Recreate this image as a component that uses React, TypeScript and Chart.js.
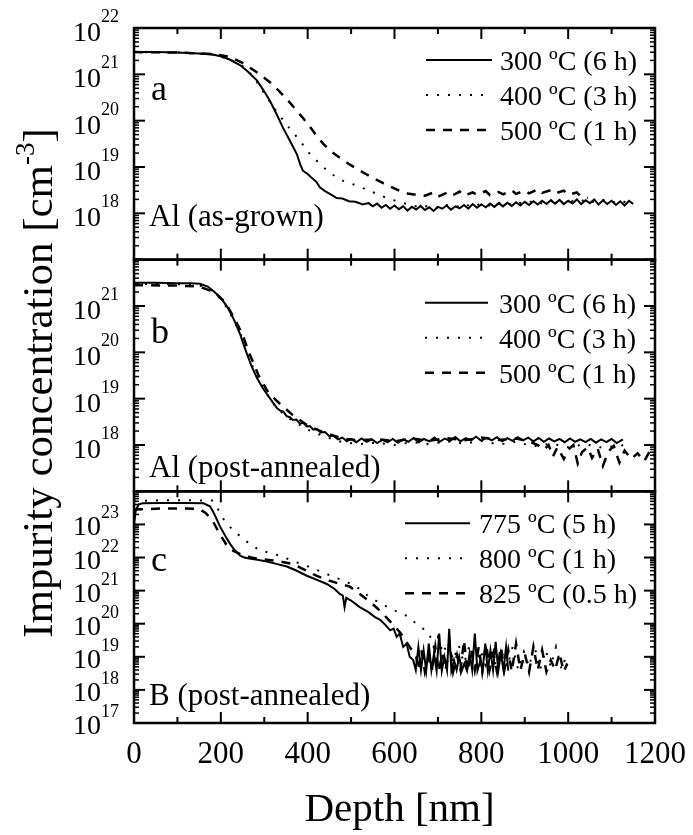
import React, { useEffect, useRef } from "react";
import { Chart, registerables } from "chart.js";

Chart.register(...registerables);

// ---------- data: [depth nm, log10(concentration cm^-3)] ----------
const xTickLabels = [0, 200, 400, 600, 800, 1000, 1200];
const yExpLabelsA = [18, 19, 20, 21, 22];
const yExpLabelsB = [18, 19, 20, 21];
const yExpLabelsC = [17, 18, 19, 20, 21, 22, 23];

const legendAl = ["300 ºC (6 h)", "400 ºC (3 h)", "500 ºC (1 h)"];
const legendB = ["775 ºC (5 h)", "800 ºC (1 h)", "825 ºC (0.5 h)"];
const panelLetters = ["a", "b", "c"];
const panelNames = ["Al (as-grown)", "Al (post-annealed)", "B (post-annealed)"];

const a300 = [
  [0, 21.48], [50, 21.48], [100, 21.47], [150, 21.45], [180, 21.43], [200, 21.39], [220, 21.32], [244, 21.2],
  [262, 21.06], [283, 20.87], [298, 20.66], [313, 20.43], [328, 20.15], [343, 19.85], [360, 19.55], [375, 19.28],
  [383, 19.05], [389, 18.92], [400, 18.85], [410, 18.76], [420, 18.68], [428, 18.56], [440, 18.48], [455, 18.4],
  [467, 18.33], [480, 18.32], [495, 18.26], [510, 18.25], [527, 18.19],
  [540, 18.22], [550, 18.15], [560, 18.21], [570, 18.12], [580, 18.18], [590, 18.1], [600, 18.17], [610, 18.09],
  [620, 18.15], [630, 18.06], [640, 18.14], [650, 18.08], [660, 18.16], [670, 18.07], [680, 18.13], [690, 18.05],
  [700, 18.14], [710, 18.1], [720, 18.17], [730, 18.08], [740, 18.15], [750, 18.11], [760, 18.18], [770, 18.1],
  [780, 18.2], [790, 18.12], [800, 18.19], [810, 18.13], [820, 18.21], [830, 18.14], [840, 18.22], [850, 18.15],
  [860, 18.23], [870, 18.16], [880, 18.24], [890, 18.17], [900, 18.25], [910, 18.18], [920, 18.26], [930, 18.19],
  [940, 18.27], [950, 18.2], [960, 18.28], [970, 18.21], [980, 18.29], [990, 18.2], [1000, 18.27], [1010, 18.21],
  [1020, 18.3], [1030, 18.2], [1040, 18.28], [1050, 18.22], [1060, 18.3], [1070, 18.19], [1080, 18.28], [1090, 18.2],
  [1100, 18.27], [1110, 18.18], [1120, 18.26], [1130, 18.17], [1140, 18.27], [1150, 18.2],
];

const a400 = [
  [0, 21.48], [100, 21.47], [180, 21.43], [220, 21.33], [250, 21.18], [275, 20.95], [302, 20.56], [332, 20.15],
  [357, 19.85], [382, 19.57], [405, 19.28], [428, 19.07], [451, 18.87], [482, 18.7], [513, 18.6], [544, 18.48],
  [582, 18.33], [620, 18.22], [640, 18.18], [660, 18.12], [680, 18.17], [700, 18.11], [720, 18.18], [740, 18.13],
  [760, 18.2], [780, 18.14], [800, 18.21], [820, 18.16], [840, 18.23], [860, 18.18], [880, 18.25], [900, 18.2],
  [920, 18.27], [940, 18.21], [960, 18.28], [980, 18.22], [1000, 18.29], [1020, 18.23], [1040, 18.3], [1060, 18.24],
  [1080, 18.29], [1100, 18.22], [1120, 18.28], [1140, 18.21], [1150, 18.25],
];

const a500 = [
  [0, 21.48], [100, 21.47], [180, 21.44], [220, 21.38], [251, 21.24], [282, 21.05], [313, 20.83], [336, 20.62],
  [359, 20.39], [378, 20.18], [398, 19.96], [417, 19.72], [436, 19.5], [455, 19.33], [474, 19.2], [494, 19.07],
  [513, 18.96], [532, 18.86], [551, 18.76], [574, 18.65], [590, 18.58], [613, 18.48], [630, 18.43], [650, 18.4],
  [670, 18.38], [690, 18.45], [700, 18.36], [720, 18.44], [730, 18.37], [750, 18.47], [760, 18.38], [780, 18.45],
  [790, 18.4], [810, 18.48], [820, 18.39], [840, 18.46], [850, 18.41], [870, 18.5], [880, 18.42], [900, 18.49],
  [910, 18.43], [930, 18.52], [940, 18.44], [960, 18.5], [970, 18.43], [990, 18.49], [1000, 18.4], [1020, 18.45],
  [1030, 18.35], [1045, 18.33],
];

const b300 = [
  [0, 21.5], [50, 21.5], [100, 21.49], [130, 21.49], [152, 21.48], [170, 21.42], [182, 21.33], [195, 21.22],
  [205, 21.11], [217, 20.95], [228, 20.75], [236, 20.58], [244, 20.4], [252, 20.18], [260, 19.97], [270, 19.72],
  [283, 19.45], [295, 19.25], [306, 19.1], [318, 18.94], [329, 18.8], [337, 18.74], [344, 18.72], [352, 18.62],
  [359, 18.6], [366, 18.54], [374, 18.55], [382, 18.46], [390, 18.48], [398, 18.4], [405, 18.41], [413, 18.33],
  [421, 18.35], [430, 18.27], [440, 18.28], [450, 18.19], [459, 18.2], [470, 18.12], [480, 18.16], [490, 18.08],
  [500, 18.13], [512, 18.06], [524, 18.14], [536, 18.07], [548, 18.12], [560, 18.04], [572, 18.11], [584, 18.06],
  [596, 18.13], [608, 18.05], [620, 18.12], [632, 18.07], [644, 18.15], [656, 18.06], [668, 18.13], [680, 18.08],
  [692, 18.16], [704, 18.07], [716, 18.14], [728, 18.09], [740, 18.17], [752, 18.08], [764, 18.15], [776, 18.1],
  [788, 18.18], [800, 18.09], [812, 18.16], [824, 18.1], [836, 18.17], [848, 18.08], [860, 18.15], [872, 18.09],
  [884, 18.17], [896, 18.1], [908, 18.16], [920, 18.08], [932, 18.15], [944, 18.07], [956, 18.14], [968, 18.08],
  [980, 18.13], [992, 18.06], [1004, 18.14], [1016, 18.07], [1028, 18.12], [1040, 18.06], [1052, 18.13], [1064, 18.05],
  [1076, 18.12], [1088, 18.06], [1100, 18.13], [1112, 18.04], [1126, 18.12],
];

const b400 = [
  [0, 21.48], [100, 21.47], [150, 21.45], [180, 21.33], [205, 21.1], [228, 20.73], [246, 20.38], [262, 19.95],
  [285, 19.43], [308, 19.08], [330, 18.78], [360, 18.56], [400, 18.33], [440, 18.18], [480, 18.06], [520, 18.02],
  [560, 18.05], [600, 18.0], [640, 18.06], [680, 18.02], [720, 18.08], [760, 18.03], [800, 18.09], [840, 18.01],
  [880, 18.07], [920, 17.97], [960, 18.03], [1000, 17.95], [1040, 18.02], [1080, 17.94], [1130, 18.0],
];

const b500 = [
  [0, 21.45], [100, 21.44], [150, 21.42], [185, 21.3], [210, 21.08], [232, 20.72], [249, 20.4], [266, 19.97],
  [288, 19.48], [310, 19.12], [336, 18.89], [365, 18.65], [400, 18.42], [440, 18.26], [480, 18.14], [520, 18.1],
  [560, 18.13], [600, 18.08], [640, 18.14], [680, 18.09], [720, 18.15], [760, 18.1], [800, 18.16], [840, 18.11],
  [880, 18.14], [910, 18.08], [930, 18.0], [945, 17.9], [955, 18.0], [965, 17.75], [975, 17.95], [990, 17.7],
  [1000, 17.9], [1012, 18.0], [1022, 17.6], [1032, 17.85], [1045, 17.95], [1055, 17.72], [1068, 17.92], [1080, 17.55],
  [1092, 17.85], [1105, 17.98], [1118, 17.62], [1130, 17.88], [1145, 17.7], [1160, 17.82], [1175, 17.65], [1190, 17.9],
  [1200, 17.75],
];

const c775 = [
  [0, 23.0], [4, 23.4], [10, 23.6], [20, 23.64], [60, 23.65], [120, 23.65], [160, 23.64], [175, 23.55],
  [182, 23.39], [190, 23.17], [198, 22.94], [210, 22.66], [221, 22.42], [232, 22.22], [244, 22.06], [252, 22.01],
  [262, 21.98], [284, 21.93], [306, 21.88], [330, 21.8], [352, 21.73], [375, 21.6], [398, 21.45], [420, 21.33],
  [444, 21.2], [462, 21.05], [474, 20.9], [481, 20.85], [485, 20.5], [489, 20.78], [500, 20.7], [520, 20.5],
  [540, 20.35], [555, 20.2], [567, 20.12], [580, 19.95], [590, 19.8], [598, 19.85], [605, 19.6], [612, 19.7],
  [620, 19.3], [628, 19.4], [635, 19.0], [643, 18.9], [649, 18.6], [655, 19.3], [661, 18.6], [667, 19.2],
  [673, 18.58], [679, 19.4], [685, 18.6], [691, 19.1], [697, 18.58], [703, 19.7], [709, 18.58], [715, 19.0],
  [721, 18.6], [726, 19.85], [731, 18.58], [737, 18.9], [743, 18.6], [749, 19.0], [755, 18.58], [761, 18.8],
  [767, 18.58], [773, 19.1], [779, 18.6], [785, 19.7], [791, 18.58], [797, 18.85], [803, 18.6], [809, 19.4],
  [815, 18.58], [821, 19.2], [827, 18.6], [833, 19.45], [839, 18.58], [845, 19.1], [851, 18.6], [857, 19.3],
  [862, 18.58],
];

const c800 = [
  [0, 23.7], [60, 23.73], [120, 23.73], [180, 23.72], [192, 23.5], [205, 23.18], [228, 22.82], [260, 22.48],
  [290, 22.21], [320, 22.12], [352, 21.97], [382, 21.82], [413, 21.67], [459, 21.42], [490, 21.27], [520, 21.05],
  [543, 20.8], [570, 20.6], [600, 20.4], [628, 20.24], [650, 20.0], [666, 19.85], [680, 19.7], [690, 19.3],
  [700, 19.6], [712, 19.1], [722, 19.45], [735, 18.9], [748, 19.35], [760, 18.8], [772, 19.3], [785, 18.7],
  [798, 19.2], [810, 18.75], [822, 19.25], [835, 18.65], [848, 19.1], [860, 18.7], [872, 19.3], [885, 18.6],
  [898, 19.15], [910, 18.7], [922, 19.35], [935, 18.6], [948, 19.2], [960, 18.7], [972, 19.3], [985, 18.62],
  [997, 19.1],
];

const c825 = [
  [0, 23.45], [60, 23.48], [120, 23.48], [150, 23.47], [165, 23.35], [182, 23.09], [198, 22.7], [214, 22.36],
  [228, 22.21], [245, 22.1], [270, 22.0], [295, 21.95], [320, 21.91], [345, 21.86], [366, 21.8], [390, 21.65],
  [420, 21.45], [450, 21.3], [475, 21.2], [497, 21.12], [520, 20.9], [545, 20.65], [570, 20.35], [595, 20.0],
  [615, 19.7], [635, 19.3], [650, 19.0], [655, 18.6], [662, 19.2], [670, 18.55], [678, 19.0], [686, 18.6],
  [694, 19.3], [702, 18.55], [710, 19.1], [718, 18.6], [727, 19.4], [735, 18.55], [744, 19.05], [752, 18.6],
  [760, 19.5], [768, 18.55], [777, 19.2], [785, 18.6], [794, 19.3], [802, 18.55], [811, 19.4], [819, 18.6],
  [828, 19.1], [836, 18.55], [845, 19.3], [853, 18.6], [862, 19.2], [870, 18.55], [880, 19.4], [890, 18.6],
  [900, 19.1], [910, 18.55], [920, 19.3], [930, 18.6], [940, 19.2], [950, 18.55], [960, 18.9], [970, 18.6],
  [980, 19.1], [990, 18.55], [998, 18.8],
];

// ---------- styling ----------
const FONT = '"Liberation Serif", "Times New Roman", Times, serif';
const LINE_STYLES = [
  { dash: [] as number[], width: 2 },
  { dash: [2, 9], width: 2 },
  { dash: [9, 8], width: 2.5 },
];
const AXIS_IDS = ["ya", "yb", "yc"];

const PANEL_LAYOUT = [
  { letterDy: 72, nameDy: -34, legendDy: 42, textX: 500, lineX0: 426, lineX1: 492 },
  { letterDy: 83, nameDy: -14, legendDy: 53, textX: 499, lineX0: 425, lineX1: 488 },
  { letterDy: 80, nameDy: -18, legendDy: 42, textX: 479, lineX0: 405, lineX1: 470 },
];

const SERIES = [
  { panel: 0, style: 0, data: a300 },
  { panel: 0, style: 1, data: a400 },
  { panel: 0, style: 2, data: a500 },
  { panel: 1, style: 0, data: b300 },
  { panel: 1, style: 1, data: b400 },
  { panel: 1, style: 2, data: b500 },
  { panel: 2, style: 0, data: c775 },
  { panel: 2, style: 1, data: c800 },
  { panel: 2, style: 2, data: c825 },
];

function drawText(ctx: CanvasRenderingContext2D, s: string, x: number, y: number, size: number, align: CanvasTextAlign = "left") {
  ctx.save();
  ctx.font = `${size}px ${FONT}`;
  ctx.textAlign = align;
  ctx.textBaseline = "alphabetic";
  ctx.fillStyle = "#000";
  ctx.fillText(s, x, y);
  ctx.restore();
}

function line(ctx: CanvasRenderingContext2D, x0: number, y0: number, x1: number, y1: number) {
  ctx.beginPath();
  ctx.moveTo(x0, y0);
  ctx.lineTo(x1, y1);
  ctx.stroke();
}

const decorPlugin = {
  id: "decor",
  afterDraw(chart: any) {
    const ctx: CanvasRenderingContext2D = chart.ctx;
    const xs = chart.scales.x;
    const left = chart.chartArea.left;
    const right = chart.chartArea.right;
    const expLabels = [yExpLabelsA, yExpLabelsB, yExpLabelsC];
    const legends = [legendAl, legendAl, legendB];
    ctx.save();
    ctx.strokeStyle = "#000";
    ctx.lineCap = "butt";

    AXIS_IDS.forEach((id, p) => {
      const ys = chart.scales[id];
      const top = ys.top;
      const bottom = ys.bottom;
      // x ticks on top and bottom
      for (let v = 0; v <= 1200; v += 100) {
        const px = xs.getPixelForValue(v);
        const len = v % 200 === 0 ? 11 : 6;
        ctx.lineWidth = 2;
        line(ctx, px, top, px, top + len);
        line(ctx, px, bottom, px, bottom - len);
      }
      // y ticks
      const eMin = Math.round(Math.log10(ys.min));
      const eMax = Math.round(Math.log10(ys.max));
      for (let e = eMin; e <= eMax; e++) {
        const py = ys.getPixelForValue(Math.pow(10, e));
        ctx.lineWidth = 2;
        line(ctx, left, py, left + 11, py);
        line(ctx, right, py, right - 11, py);
        if (e < eMax) {
          for (let m = 2; m <= 9; m++) {
            const pm = ys.getPixelForValue(m * Math.pow(10, e));
            ctx.lineWidth = 1.5;
            line(ctx, left, pm, left + 5, pm);
            line(ctx, right, pm, right - 5, pm);
          }
        }
      }
      // frame
      ctx.lineWidth = 2.5;
      ctx.strokeRect(left, top, right - left, bottom - top);

      // y tick labels 10^n
      expLabels[p].forEach((e) => {
        const py = ys.getPixelForValue(Math.pow(10, e));
        drawText(ctx, "10", 101, py + (p === 2 ? 11 : 13), 28, "right");
        drawText(ctx, String(e), 101, py - 6, 18, "left");
      });

      // panel letter and name
      const L = PANEL_LAYOUT[p];
      drawText(ctx, panelLetters[p], 151, top + L.letterDy, 36, "left");
      drawText(ctx, panelNames[p], 149, bottom + L.nameDy, 31, "left");

      // legend
      legends[p].forEach((label, i) => {
        const base = top + L.legendDy + i * 35;
        const st = LINE_STYLES[i];
        ctx.save();
        ctx.lineWidth = st.width;
        ctx.setLineDash(st.dash);
        line(ctx, L.lineX0, base - 10, L.lineX1, base - 10);
        ctx.restore();
        drawText(ctx, label, L.textX, base, 28, "left");
      });
    });

    // x tick labels
    const xb = chart.chartArea.bottom;
    xTickLabels.forEach((v) => {
      drawText(ctx, String(v), xs.getPixelForValue(v), xb + 40, 31, "center");
    });

    // x title
    drawText(ctx, "Depth [nm]", (left + right) / 2 + 5, xb + 98, 41, "center");

    // y title (rotated)
    ctx.save();
    ctx.translate(52, 383);
    ctx.rotate(-Math.PI / 2);
    ctx.fillStyle = "#000";
    ctx.textBaseline = "alphabetic";
    const big = `43px ${FONT}`;
    const small = `27px ${FONT}`;
    const t1 = "Impurity concentration [cm";
    const t2 = "-3";
    const t3 = "]";
    ctx.font = big;
    const w1 = ctx.measureText(t1).width;
    const w3 = ctx.measureText(t3).width;
    ctx.font = small;
    const w2 = ctx.measureText(t2).width;
    const total = w1 + w2 + w3;
    let x0 = -total / 2;
    ctx.font = big;
    ctx.textAlign = "left";
    ctx.fillText(t1, x0, 0);
    ctx.font = small;
    ctx.fillText(t2, x0 + w1, -18);
    ctx.font = big;
    ctx.fillText(t3, x0 + w1 + w2, 0);
    ctx.restore();

    ctx.restore();
  },
};

export default function App() {
  const ref = useRef<HTMLCanvasElement | null>(null);

  useEffect(() => {
    document.body.style.margin = "0";
    const canvas = ref.current;
    if (!canvas) return;

    const datasets = SERIES.map((s) => ({
      data: s.data.map(([d, e]) => ({ x: d, y: Math.pow(10, e) })),
      yAxisID: AXIS_IDS[s.panel],
      borderColor: "#000",
      borderWidth: LINE_STYLES[s.style].width,
      borderDash: LINE_STYLES[s.style].dash,
      pointRadius: 0,
      tension: 0,
      fill: false,
    }));

    const yAxis = (weight: number, max: number) => ({
      type: "logarithmic" as const,
      position: "left" as const,
      stack: "panels",
      stackWeight: 1,
      weight,
      min: 1e17,
      max,
      grid: { display: false },
      border: { display: false },
      ticks: { display: false },
      afterFit: (s: any) => {
        s.width = 134;
      },
    });

    const chart = new Chart(canvas, {
      type: "line",
      data: { datasets },
      options: {
        animation: false,
        responsive: false,
        devicePixelRatio: 1,
        layout: { padding: { left: 0, right: 38, top: 28, bottom: 0 } },
        plugins: { legend: { display: false }, tooltip: { enabled: false }, title: { display: false } },
        scales: {
          x: {
            type: "linear",
            min: 0,
            max: 1200,
            position: "bottom",
            grid: { display: false },
            border: { display: false },
            ticks: { display: false },
            afterFit: (s: any) => {
              s.height = 112;
            },
          },
          ya: yAxis(3, 1e22),
          yb: yAxis(2, 1e22),
          yc: yAxis(1, 1e24),
        } as any,
      },
      plugins: [decorPlugin],
    });

    return () => chart.destroy();
  }, []);

  return (
    <div style={{ position: "absolute", left: 0, top: 0, width: 693, height: 835, background: "#fff" }}>
      <canvas ref={ref} width={693} height={835} style={{ width: 693, height: 835, display: "block" }} />
    </div>
  );
}
